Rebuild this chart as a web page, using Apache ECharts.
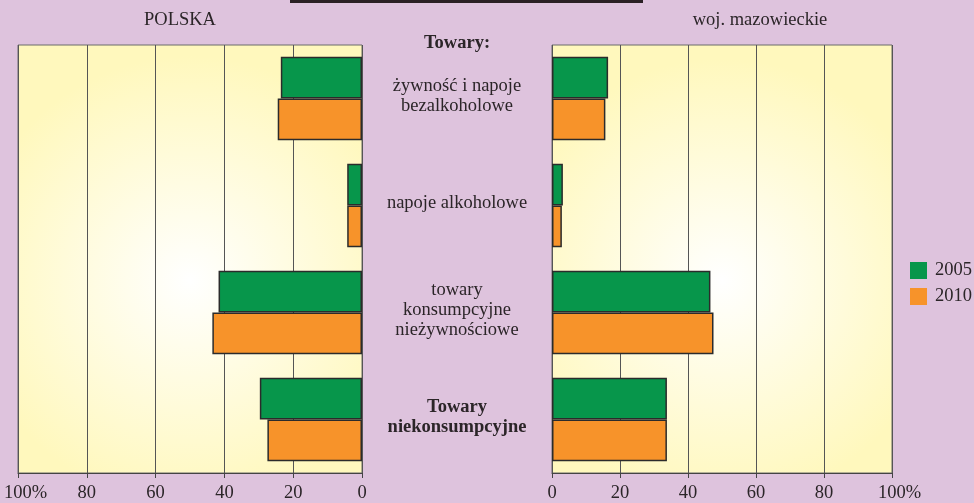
<!DOCTYPE html>
<html>
<head>
<meta charset="utf-8">
<script src="https://cdn.jsdelivr.net/npm/echarts@6/dist/echarts.min.js"></script>
<style>
    html, body {margin: 0; padding: 0; background: #dec3dd;}
    #chart {width: 974px; height: 503px;}
</style>
</head>
<body>
<div id="chart"></div>
<script>
// kategorie towarów (od góry)
const categories = [
    'żywność i napoje\nbezalkoholowe',
    'napoje alkoholowe',
    'towary\nkonsumpcyjne\nnieżywnościowe',
    'Towary\nniekonsumpcyjne'
];
const boldCategory = 'Towary\nniekonsumpcyjne';
const years = ['2005', '2010'];

// udział w % - Polska
const polska2005 = [23.6, 4.3, 41.7, 29.7];
const polska2010 = [24.5, 4.3, 43.5, 27.5];
// udział w % - woj. mazowieckie
const mazowieckie2005 = [16.5, 3.2, 46.6, 33.8];
const mazowieckie2010 = [15.7, 2.9, 47.5, 33.8];

const GREEN = '#07964b';
const ORANGE = '#f7932a';
const FONT = 'Liberation Serif';
const FS = 18.5;
const TXT = '#2b2528';

const chart = echarts.init(document.getElementById('chart'));

const plotBg = {
    type: 'radial', x: 0.5, y: 0.55, r: 0.65,
    colorStops: [{offset: 0, color: '#ffffff'}, {offset: 1, color: '#fff8bd'}]
};

function xAxisFor(gridIndex, inverse) {
    return {
        gridIndex, type: 'value', min: 0, max: 100, interval: 20, inverse,
        axisLine: {show: true, lineStyle: {color: '#444', width: 1}},
        axisTick: {show: true, length: 5, lineStyle: {color: '#444'}},
        splitLine: {show: true, lineStyle: {color: '#555', width: 1}},
        axisLabel: {
            margin: 11, color: TXT, fontFamily: FONT, fontSize: FS,
            formatter: v => v === 100 ? '{p|100%}' : String(v),
            rich: {p: {fontFamily: FONT, fontSize: FS, color: TXT, padding: [0, 0, 0, 15]}}
        }
    };
}

function barSeries(name, data, xi, color) {
    return {
        name, type: 'bar', xAxisIndex: xi, yAxisIndex: xi, data,
        barGap: '0%', barCategoryGap: '22%',
        itemStyle: {color, borderColor: '#2b2b2b', borderWidth: 1.5},
        emphasis: {disabled: true}
    };
}

chart.setOption({
    backgroundColor: '#dec3dd',
    animation: false,
    textStyle: {fontFamily: FONT},
    legend: {
        orient: 'vertical', left: 905, top: 256,
        itemWidth: 17, itemHeight: 17, itemGap: 7,
        icon: 'rect',
        itemStyle: {borderWidth: 0},
        textStyle: {fontFamily: FONT, fontSize: FS, color: TXT, padding: [0, 0, 0, 3]},
        data: years
    },
    graphic: [
        {type: 'rect', shape: {x: 290, y: 0, width: 353, height: 3}, style: {fill: '#2a2024'}},
        {type: 'text', style: {text: 'POLSKA', x: 180, y: 20, align: 'center', verticalAlign: 'middle',
            font: FS + 'px "Liberation Serif"', fill: TXT}},
        {type: 'text', style: {text: 'woj. mazowieckie', x: 760, y: 20, align: 'center', verticalAlign: 'middle',
            font: FS + 'px "Liberation Serif"', fill: TXT}},
        {type: 'text', style: {text: 'Towary:', x: 457, y: 43, align: 'center', verticalAlign: 'middle',
            font: 'bold ' + FS + 'px "Liberation Serif"', fill: TXT}}
    ],
    grid: [
        {left: 18, width: 344, top: 45, height: 429, show: true, backgroundColor: plotBg,
            borderColor: '#6a6a6a', borderWidth: 1},
        {left: 552, width: 340, top: 45, height: 429, show: true, backgroundColor: plotBg,
            borderColor: '#6a6a6a', borderWidth: 1}
    ],
    xAxis: [xAxisFor(0, true), xAxisFor(1, false)],
    yAxis: [
        {
            gridIndex: 0, type: 'category', data: categories, inverse: true, position: 'right',
            axisLine: {show: false}, axisTick: {show: false}, splitLine: {show: false},
            axisLabel: {
                margin: 95, align: 'center', padding: [0, 0, 5, 0],
                formatter: v => v.split('\n').map(l => (v === boldCategory ? '{b|' : '{n|') + l + '}').join('\n'),
                rich: {
                    n: {fontFamily: FONT, fontSize: FS, color: TXT, lineHeight: 20},
                    b: {fontFamily: FONT, fontSize: FS, fontWeight: 'bold', color: TXT, lineHeight: 20}
                }
            }
        },
        {
            gridIndex: 1, type: 'category', data: categories, inverse: true,
            axisLine: {show: false}, axisTick: {show: false}, splitLine: {show: false},
            axisLabel: {show: false}
        }
    ],
    series: [
        barSeries('2005', polska2005, 0, GREEN),
        barSeries('2010', polska2010, 0, ORANGE),
        barSeries('2005', mazowieckie2005, 1, GREEN),
        barSeries('2010', mazowieckie2010, 1, ORANGE)
    ]
});
</script>
</body>
</html>
